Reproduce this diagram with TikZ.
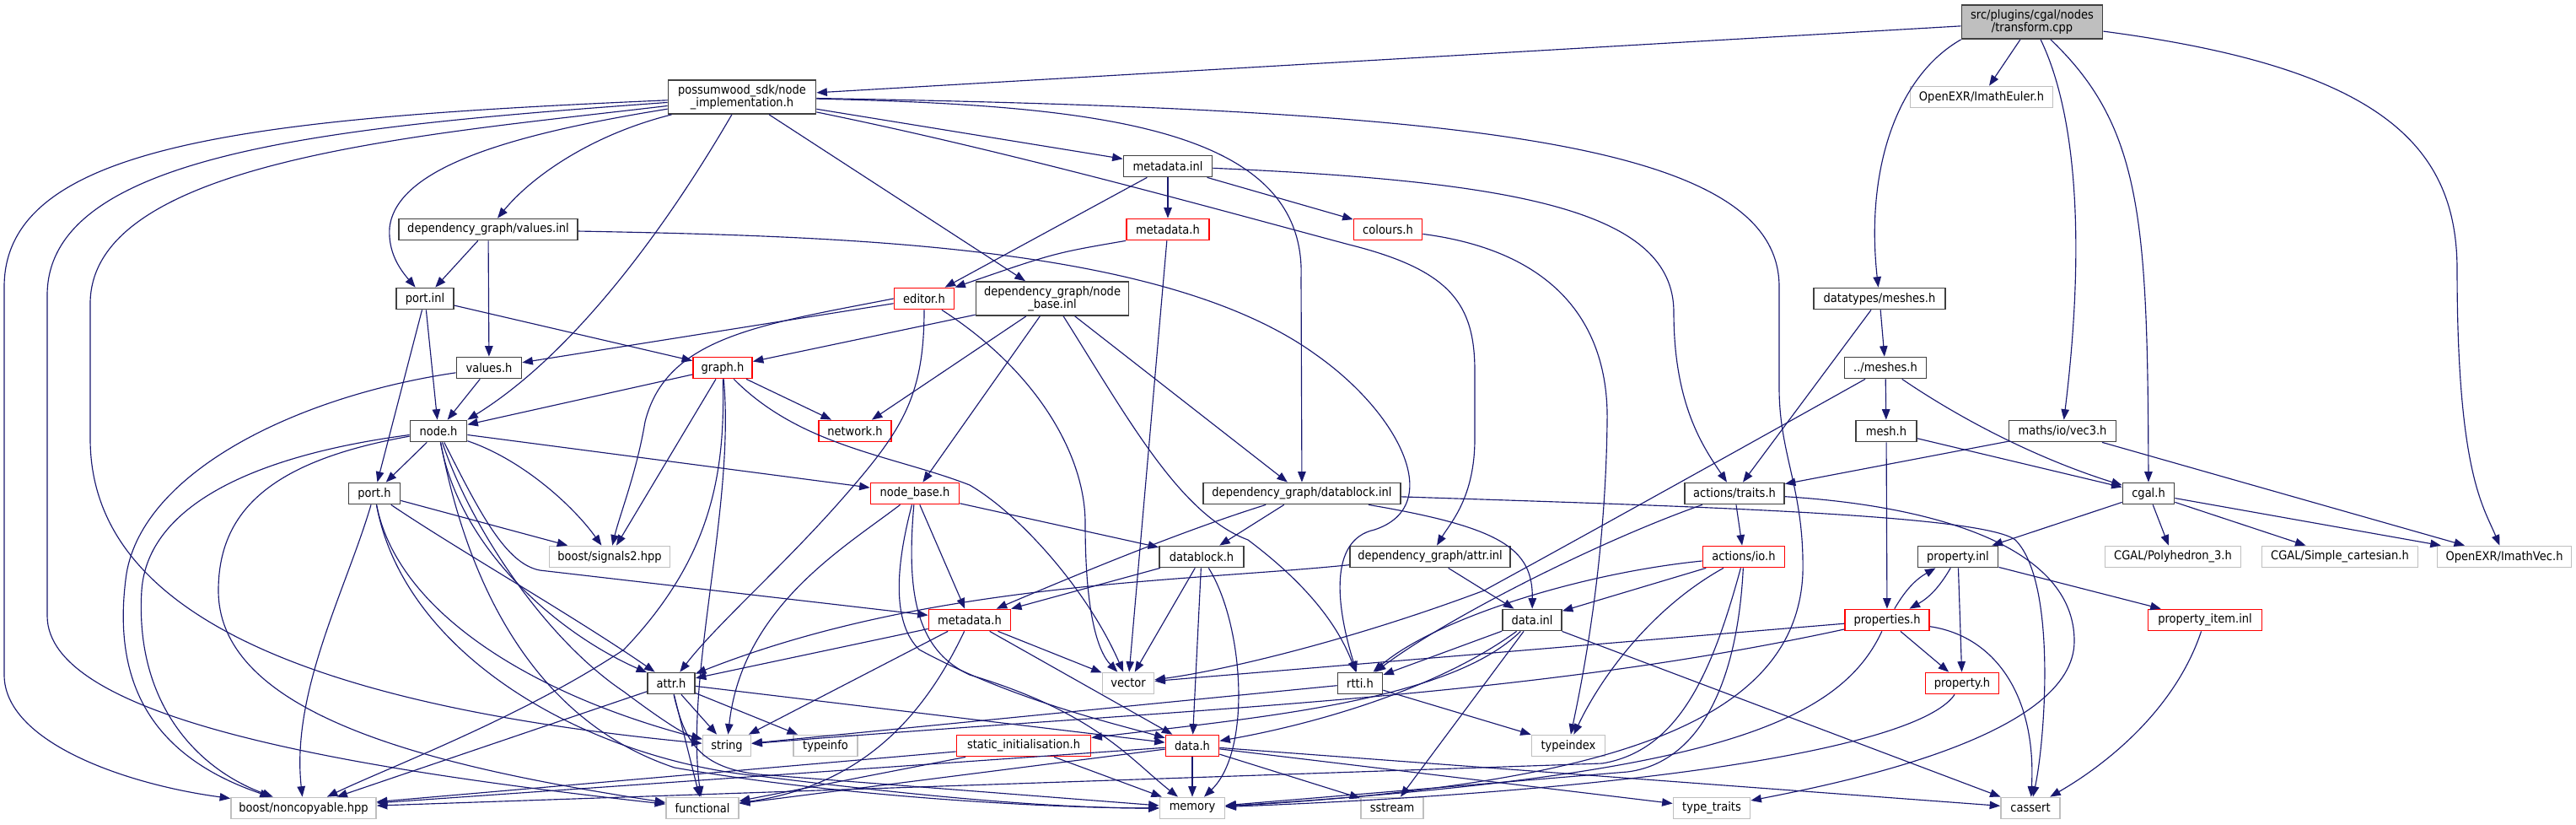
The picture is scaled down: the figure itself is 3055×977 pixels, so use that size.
\documentclass[tikz,border=0pt]{standalone}
\usepackage{fontspec}
\setmainfont{DejaVu Sans}[FakeStretch=0.9]
\usetikzlibrary{arrows.meta}

\definecolor{edgeblue}{HTML}{191970}
\definecolor{boxgray}{HTML}{404040}
\definecolor{extgray}{HTML}{BFBFBF}

\begin{document}
\begin{tikzpicture}[
    x=0.02cm,
    y=-0.02cm,
    header/.style={
        rectangle,
        draw=boxgray,
        line width=1pt,
        fill=white,
        minimum height=0.5cm,
        inner sep=0pt,
        align=center,
        font=\fontsize{8.25}{8.6}\selectfont
    },
    missing/.style={
        header,
        draw=red
    },
    external/.style={
        header,
        draw=extgray
    },
    source/.style={
        header,
        fill=extgray,
        draw=boxgray
    },
    twoline/.style={
        minimum height=0.8cm
    },
    include/.style={
        -{Triangle[length=0.25cm,width=0.19cm]},
        color=edgeblue,
        line width=0.65pt
    }
]

\useasboundingbox (0,0) rectangle (3055,977);

\node[source, twoline, minimum width=3.34cm] (transform) at (2410,26) {src/plugins/cgal/nodes\\/transform.cpp};

\node[header, twoline, minimum width=3.50cm] (nodeimpl) at (880,115) {possumwood\_sdk/node\\\_implementation.h};
\node[external, minimum width=3.38cm] (euler) at (2350,115) {OpenEXR/ImathEuler.h};

\node[header, minimum width=2.10cm] (metainl) at (1385,197) {metadata.inl};

\node[header, minimum width=4.24cm] (valuesinl) at (579,272) {dependency\_graph/values.inl};
\node[missing, minimum width=1.96cm] (sdkmeta) at (1385,272) {metadata.h};
\node[missing, minimum width=1.62cm] (colours) at (1646,272) {colours.h};

\node[header, minimum width=1.36cm] (portinl) at (504,354) {port.inl};
\node[missing, minimum width=1.42cm] (editor) at (1096,354) {editor.h};
\node[header, twoline, minimum width=3.62cm] (nodebaseinl) at (1248,354) {dependency\_graph/node\\\_base.inl};
\node[header, minimum width=3.12cm] (dtmeshes) at (2229,354) {datatypes/meshes.h};

\node[header, minimum width=1.54cm] (valuesh) at (580,436) {values.h};
\node[missing, minimum width=1.40cm] (graphh) at (857,436) {graph.h};
\node[header, minimum width=1.94cm] (meshes) at (2236,436) {../meshes.h};

\node[header, minimum width=1.34cm] (nodeh) at (520,511) {node.h};
\node[missing, minimum width=1.72cm] (network) at (1014,511) {network.h};
\node[header, minimum width=1.44cm] (meshh) at (2237,511) {mesh.h};
\node[header, minimum width=2.54cm] (vecthree) at (2446,511) {maths/io/vec3.h};

\node[header, minimum width=1.22cm] (porth) at (444,585) {port.h};
\node[missing, minimum width=2.10cm] (nodebaseh) at (1085,585) {node\_base.h};
\node[header, minimum width=4.68cm] (datablockinl) at (1544,585) {dependency\_graph/datablock.inl};
\node[header, minimum width=2.36cm] (traits) at (2057,585) {actions/traits.h};
\node[header, minimum width=1.22cm] (cgalh) at (2548,585) {cgal.h};

\node[external, minimum width=2.86cm] (signals) at (723,660) {boost/signals2.hpp};
\node[header, minimum width=2.00cm] (datablockh) at (1425,660) {datablock.h};
\node[header, minimum width=3.80cm] (attrinl) at (1696,660) {dependency\_graph/attr.inl};
\node[missing, minimum width=1.94cm] (ioh) at (2068,660) {actions/io.h};
\node[header, minimum width=1.90cm] (propinl) at (2322,660) {property.inl};
\node[external, minimum width=3.22cm] (polyhedron) at (2577,660) {CGAL/Polyhedron\_3.h};
\node[external, minimum width=3.70cm] (cartesian) at (2775,660) {CGAL/Simple\_cartesian.h};
\node[external, minimum width=3.18cm] (imathvec) at (2970,660) {OpenEXR/ImathVec.h};

\node[missing, minimum width=1.94cm] (graphmeta) at (1150,735) {metadata.h};
\node[header, minimum width=1.40cm] (datainl) at (1817,735) {data.inl};
\node[missing, minimum width=2.00cm] (propertiesh) at (2238,735) {properties.h};
\node[missing, minimum width=2.70cm] (propitem) at (2615,735) {property\_item.inl};

\node[header, minimum width=1.12cm] (attrh) at (796,810) {attr.h};
\node[external, minimum width=1.22cm] (vector) at (1338,810) {vector};
\node[header, minimum width=1.06cm] (rtti) at (1613,810) {rtti.h};
\node[missing, minimum width=1.74cm] (propertyh) at (2327,810) {property.h};

\node[external, minimum width=1.14cm] (string) at (862,884) {string};
\node[external, minimum width=1.52cm] (typeinfo) at (979,884) {typeinfo};
\node[missing, minimum width=3.18cm] (staticinit) at (1214,884) {static\_initialisation.h};
\node[missing, minimum width=1.26cm] (datah) at (1414,884) {data.h};
\node[external, minimum width=1.74cm] (typeindex) at (1860,884) {typeindex};

\node[external, minimum width=3.44cm] (noncopyable) at (360,958) {boost/noncopyable.hpp};
\node[external, minimum width=1.72cm] (functional) at (833,958) {functional};
\node[external, minimum width=1.54cm] (memory) at (1414,958) {memory};
\node[external, minimum width=1.48cm] (sstream) at (1651,958) {sstream};
\node[external, minimum width=1.82cm] (typetraits) at (2030,958) {type\_traits};
\node[external, minimum width=1.40cm] (cassert) at (2408,958) {cassert};

\draw[include] (transform) -- (nodeimpl);
\draw[include] (transform) -- (euler);
\draw[include] (transform.south west) .. controls (2250,90) and (2212,200) .. (dtmeshes);
\draw[include] (transform) .. controls (2465,140) and (2472,300) .. (vecthree);
\draw[include] (transform) .. controls (2540,150) and (2547,260) .. (cgalh);
\draw[include] (transform) .. controls (2820,80) and (2914,170) .. (2914,320) .. controls (2914,560) and (2945,600) .. (imathvec);

\draw[include] (nodeimpl) .. controls (300,140) and (5,170) .. (5,340) -- (5,800) .. controls (5,880) and (150,930) .. (noncopyable);
\draw[include] (nodeimpl) .. controls (400,150) and (56,180) .. (56,350) -- (56,730) .. controls (56,850) and (400,910) .. (functional);
\draw[include] (nodeimpl) .. controls (500,160) and (107,190) .. (107,360) -- (107,520) .. controls (107,700) and (300,830) .. (string);
\draw[include] (nodeimpl) .. controls (790,270) and (680,420) .. (nodeh.north east);
\draw[include] (nodeimpl) .. controls (600,160) and (470,200) .. (462,270) .. controls (460,300) and (475,320) .. (portinl);
\draw[include] (nodeimpl) .. controls (700,160) and (630,210) .. (valuesinl);
\draw[include] (nodeimpl) -- (nodebaseinl);
\draw[include] (nodeimpl) -- (metainl);
\draw[include] (nodeimpl) .. controls (1300,125) and (1550,150) .. (1543,330) -- (datablockinl);
\draw[include] (nodeimpl) .. controls (1200,180) and (1450,250) .. (1600,290) .. controls (1720,320) and (1749,360) .. (1749,440) -- (1749,520) .. controls (1749,590) and (1720,620) .. (attrinl);
\draw[include] (nodeimpl) .. controls (1750,130) and (2110,170) .. (2110,340) -- (2110,460) .. controls (2110,540) and (2140,580) .. (2138,680) .. controls (2130,860) and (1900,930) .. (memory);

\draw[include] (metainl) -- (editor);
\draw[include] (metainl) -- (sdkmeta);
\draw[include] (metainl) -- (colours);
\draw[include] (metainl) .. controls (1800,215) and (1985,250) .. (1985,370) .. controls (1985,480) and (2020,530) .. (traits);

\draw[include] (valuesinl) -- (portinl);
\draw[include] (valuesinl) -- (valuesh);
\draw[include] (valuesinl) .. controls (1000,280) and (1380,290) .. (1560,420) .. controls (1660,490) and (1715,600) .. (1630,628) .. controls (1575,640) and (1585,720) .. (rtti);

\draw[include] (sdkmeta.south west) .. controls (1250,300) .. (editor.north east);
\draw[include] (sdkmeta) -- (vector);
\draw[include] (colours) .. controls (1860,300) and (1908,400) .. (1906,500) .. controls (1904,660) and (1880,790) .. (typeindex);

\draw[include] (portinl) -- (nodeh);
\draw[include] (portinl) -- (porth);
\draw[include] (portinl) -- (graphh);

\draw[include] (editor) -- (valuesh);
\draw[include] (editor.west) .. controls (900,385) and (790,400) .. (765,500) .. controls (755,560) and (735,610) .. (signals);
\draw[include] (editor) .. controls (1096,470) and (1070,510) .. (1000,590) .. controls (930,670) and (850,740) .. (attrh);
\draw[include] (editor) .. controls (1230,440) and (1287,540) .. (1287,620) .. controls (1287,720) and (1300,770) .. (vector);

\draw[include] (nodebaseinl) -- (graphh);
\draw[include] (nodebaseinl) -- (network);
\draw[include] (nodebaseinl) -- (nodebaseh);
\draw[include] (nodebaseinl) -- (datablockinl);
\draw[include] (nodebaseinl) .. controls (1340,500) and (1400,610) .. (1480,640) .. controls (1560,700) and (1590,750) .. (rtti);

\draw[include] (dtmeshes) -- (traits);
\draw[include] (dtmeshes) -- (meshes);

\draw[include] (valuesh) -- (nodeh);
\draw[include] (valuesh) .. controls (350,470) and (170,560) .. (150,680) .. controls (130,820) and (190,900) .. (noncopyable);

\draw[include] (graphh) -- (nodeh);
\draw[include] (graphh) -- (network);
\draw[include] (graphh) -- (signals);
\draw[include] (graphh) .. controls (860,560) and (845,660) .. (740,770) .. controls (620,850) and (460,910) .. (noncopyable);
\draw[include] (graphh) .. controls (872,600) and (812,800) .. (functional);
\draw[include] (graphh) .. controls (950,530) and (1060,540) .. (1150,575) .. controls (1210,610) and (1290,700) .. (vector);

\draw[include] (meshes) -- (meshh);
\draw[include] (meshes) .. controls (2330,500) and (2420,545) .. (cgalh);
\draw[include] (meshes) .. controls (2050,540) and (1870,640) .. (1760,700) .. controls (1600,760) and (1450,795) .. (vector);

\draw[include] (meshh) -- (propertiesh);
\draw[include] (meshh) -- (cgalh);

\draw[include] (vecthree) -- (traits);
\draw[include] (vecthree) -- (imathvec);

\draw[include] (nodeh) -- (porth);
\draw[include] (nodeh) -- (nodebaseh);
\draw[include] (nodeh) .. controls (620,545) and (680,600) .. (signals);
\draw[include] (nodeh) .. controls (300,540) and (175,600) .. (168,700) .. controls (160,830) and (230,910) .. (noncopyable);
\draw[include] (nodeh) .. controls (330,545) and (259,600) .. (259,700) .. controls (259,850) and (520,910) .. (functional);
\draw[include] (nodeh) .. controls (560,720) and (650,860) .. (800,910) .. controls (1000,945) and (1250,958) .. (memory);
\draw[include] (nodeh) .. controls (560,630) and (650,760) .. (740,820) .. controls (780,850) and (810,870) .. (string);
\draw[include] (nodeh) .. controls (545,650) and (660,750) .. (attrh);
\draw[include] (nodeh) .. controls (570,610) and (600,668) .. (640,676) -- (graphmeta);

\draw[include] (porth) -- (signals);
\draw[include] (porth) .. controls (410,700) and (345,820) .. (noncopyable);
\draw[include] (porth) .. controls (540,650) and (680,730) .. (attrh);
\draw[include] (porth) .. controls (470,720) and (620,820) .. (string);
\draw[include] (porth) .. controls (480,780) and (700,900) .. (900,920) .. controls (1100,945) and (1250,958) .. (memory);

\draw[include] (nodebaseh) -- (datablockh);
\draw[include] (nodebaseh) -- (graphmeta);
\draw[include] (nodebaseh) .. controls (1000,650) and (880,720) .. (string);
\draw[include] (nodebaseh) .. controls (1060,680) and (1060,740) .. (1090,770) .. controls (1200,830) and (1330,860) .. (datah);
\draw[include] (nodebaseh) .. controls (1075,700) and (1085,770) .. (1150,800) .. controls (1300,845) and (1340,900) .. (memory);

\draw[include] (datablockinl) -- (datablockh);
\draw[include] (datablockinl) .. controls (1400,630) and (1280,680) .. (graphmeta);
\draw[include] (datablockinl) .. controls (1780,625) and (1818,650) .. (datainl);
\draw[include] (datablockinl) .. controls (2000,600) and (2350,610) .. (2390,640) .. controls (2440,690) and (2425,880) .. (cassert);

\draw[include] (traits) -- (ioh);
\draw[include] (traits) .. controls (1900,640) and (1720,730) .. (rtti);
\draw[include] (traits) .. controls (2300,600) and (2460,650) .. (2460,760) .. controls (2460,870) and (2200,925) .. (typetraits);

\draw[include] (cgalh) -- (propinl);
\draw[include] (cgalh) -- (polyhedron);
\draw[include] (cgalh) -- (cartesian);
\draw[include] (cgalh) -- (imathvec);

\draw[include] (datablockh) -- (graphmeta);
\draw[include] (datablockh) -- (vector);
\draw[include] (datablockh) -- (datah);
\draw[include] (datablockh) .. controls (1475,740) and (1485,890) .. (memory);

\draw[include] (attrinl) .. controls (1400,690) and (1100,690) .. (attrh);
\draw[include] (attrinl) -- (datainl);

\draw[include] (ioh) -- (datainl);
\draw[include] (ioh) .. controls (1870,680) and (1700,735) .. (rtti);
\draw[include] (ioh) .. controls (1960,720) and (1900,800) .. (typeindex);
\draw[include] (ioh) .. controls (2030,800) and (1990,890) .. (1900,905) -- (noncopyable);
\draw[include] (ioh) .. controls (2060,820) and (2010,905) .. (1930,915) -- (memory);

\draw[include] (propinl) -- (propertyh);
\draw[include] (propinl) -- (propitem);
\draw[include] (propinl) to[bend left=15] (propertiesh);

\draw[include] (propertiesh) to[bend left=15] (propinl);
\draw[include] (propertiesh) -- (propertyh);
\draw[include] (propertiesh) -- (vector);
\draw[include] (propertiesh) .. controls (1800,830) and (1400,840) .. (string);
\draw[include] (propertiesh) .. controls (2370,755) and (2415,830) .. (cassert);
\draw[include] (propertiesh) .. controls (2180,860) and (2020,920) .. (memory);

\draw[include] (propitem) .. controls (2580,840) and (2500,905) .. (cassert);

\draw[include] (graphmeta) -- (attrh);
\draw[include] (graphmeta) -- (string);
\draw[include] (graphmeta) -- (vector);
\draw[include] (graphmeta) -- (datah);
\draw[include] (graphmeta) .. controls (1100,840) and (1030,930) .. (functional);

\draw[include] (datainl) -- (rtti);
\draw[include] (datainl) -- (sstream);
\draw[include] (datainl) -- (cassert);
\draw[include] (datainl) .. controls (1700,820) and (1550,860) .. (datah);
\draw[include] (datainl) .. controls (1720,830) and (1500,850) .. (staticinit);

\draw[include] (attrh) -- (string);
\draw[include] (attrh) -- (typeinfo);
\draw[include] (attrh) -- (functional);
\draw[include] (attrh) -- (noncopyable);
\draw[include] (attrh) -- (datah);
\draw[include] (attrh) .. controls (812,880) and (830,910) .. (900,918) -- (memory);

\draw[include] (rtti) -- (string);
\draw[include] (rtti) -- (typeindex);

\draw[include] (propertyh) .. controls (2280,880) and (2000,935) .. (memory);

\draw[include] (datah) -- (functional);
\draw[include] (datah) -- (noncopyable);
\draw[include] (datah) -- (memory);
\draw[include] (datah) -- (sstream);
\draw[include] (datah) -- (typetraits);
\draw[include] (datah) -- (cassert);

\draw[include] (staticinit) -- (functional);
\draw[include] (staticinit) -- (memory);
\draw[include] (staticinit) -- (noncopyable);

\end{tikzpicture}
\end{document}
